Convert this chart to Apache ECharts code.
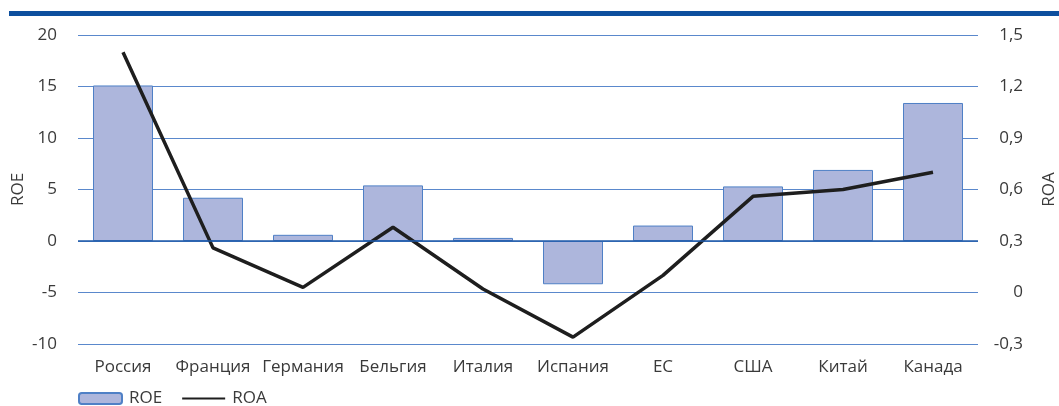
<!DOCTYPE html>
<html>
<head>
<meta charset="utf-8">
<script src="https://cdn.jsdelivr.net/npm/echarts@6/dist/echarts.min.js"></script>
<style>
html,body{margin:0;padding:0;background:#fff;}
#c{width:1059px;height:406px;}
</style>
</head>
<body>
<div id="c"></div>
<script>
var categories = ['Россия','Франция','Германия','Бельгия','Италия','Испания','ЕС','США','Китай','Канада'];
var roe = [15.1, 4.2, 0.6, 5.4, 0.3, -4.2, 1.5, 5.3, 6.9, 13.4];
var roa = [1.40, 0.26, 0.03, 0.38, 0.02, -0.26, 0.10, 0.56, 0.60, 0.70];
var leftTicks = {min: -10, max: 20, interval: 5};
var rightTicks = {min: -0.3, max: 1.5, interval: 0.3};

var FONT = '"Open Sans", sans-serif';
var TXT = '#3a3a3a';
var FS = 17;
var chart = echarts.init(document.getElementById('c'), null, {renderer: 'canvas'});
chart.setOption({
  animation: false,
  graphic: [{
    type: 'rect', left: 9, top: 11, shape: {width: 1050, height: 5},
    style: {fill: '#0d4f9e'}
  }],
  grid: {left: 78, right: 81, top: 35, bottom: 62, outerBoundsMode: 'none', containLabel: false},
  legend: {
    left: 73, top: 385,
    itemWidth: 43, itemHeight: 11, itemGap: 19,
    textStyle: {fontFamily: FONT, fontSize: FS, color: TXT, padding: [0, 0, 0, 2]},
    data: ['ROE', {name: 'ROA', itemStyle: {opacity: 0}}]
  },
  xAxis: {
    type: 'category', data: categories,
    axisLine: {show: false}, axisTick: {show: false},
    axisLabel: {fontFamily: FONT, fontSize: FS, color: TXT, margin: 15, interval: 0}
  },
  yAxis: [{
    type: 'value', min: leftTicks.min, max: leftTicks.max, interval: leftTicks.interval,
    name: 'ROE', nameLocation: 'middle', nameRotate: 90, nameGap: 51, nameMoveOverlap: false,
    nameTextStyle: {fontFamily: FONT, fontSize: FS, color: TXT},
    axisLine: {show: false}, axisTick: {show: false},
    axisLabel: {fontFamily: FONT, fontSize: FS, color: TXT, margin: 21},
    splitLine: {lineStyle: {color: '#5a88cc', width: 1}}
  }, {
    type: 'value', min: rightTicks.min, max: rightTicks.max, interval: rightTicks.interval,
    position: 'right',
    name: 'ROA', nameLocation: 'middle', nameRotate: 90, nameGap: 63, nameMoveOverlap: false,
    nameTextStyle: {fontFamily: FONT, fontSize: FS, color: TXT},
    axisLine: {show: false}, axisTick: {show: false},
    axisLabel: {fontFamily: FONT, fontSize: FS, color: TXT, margin: 45, align: 'right',
      formatter: function (v) { return String(Math.round(v * 10) / 10).replace('.', ','); }},
    splitLine: {show: false}
  }],
  series: [{
    name: 'ROE', type: 'bar', yAxisIndex: 0, data: roe, barWidth: 60,
    itemStyle: {color: '#adb6dc', borderColor: '#4f80c6', borderWidth: 1}
  }, {
    name: 'ROA', type: 'line', yAxisIndex: 1, data: roa,
    symbol: 'none', smooth: false,
    lineStyle: {color: '#1e1e1e', width: 3.5}
  }, {
    type: 'line', yAxisIndex: 0, data: [], silent: true,
    markLine: {symbol: 'none', silent: true, label: {show: false},
      lineStyle: {color: '#1f5aa8', width: 1.5, type: 'solid'}, data: [{yAxis: 0}]}
  }]
});
</script>
</body>
</html>
